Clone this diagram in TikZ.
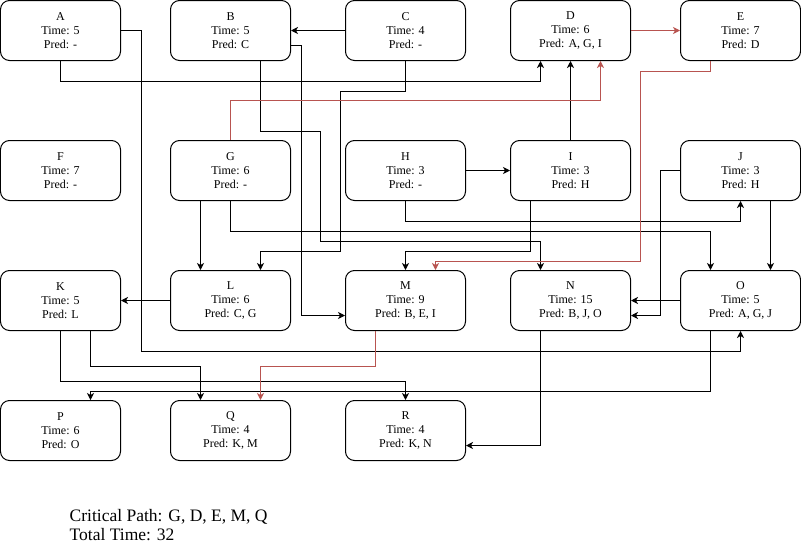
\documentclass[tikz,border=0pt]{standalone}
\usepackage{fontspec}
\setmainfont{Liberation Serif}
\usetikzlibrary{arrows.meta}
\definecolor{critred}{RGB}{184,84,80}
\tikzset{
  task/.style={draw=black, line width=1pt, rounded corners=9pt, rectangle,
    minimum width=120pt, minimum height=60pt, inner sep=0pt, align=center,
    font=\fontsize{12}{14}\selectfont},
  arr/.style={draw=black, line width=1pt, -{Stealth[length=7pt,width=7pt,inset=2pt]}},
  crit/.style={draw=critred, line width=1pt, -{Stealth[length=7pt,width=7pt,inset=2pt]}},
}
\begin{document}
\begin{tikzpicture}[x=1pt,y=-1pt]
\useasboundingbox (-0.5,-0.5) rectangle (800.5,543.5);
% row 1
\node[task] (A) at (60,30)  {A\\Time: 5\\Pred: -};
\node[task] (B) at (230,30) {B\\Time: 5\\Pred: C};
\node[task] (C) at (405,30) {C\\Time: 4\\Pred: -};
\node[task] (D) at (570,30) {D\\Time: 6\\Pred: A, G, I};
\node[task] (E) at (740,30) {E\\Time: 7\\Pred: D};
% row 2
\node[task] (F) at (60,170)  {F\\Time: 7\\Pred: -};
\node[task] (G) at (230,170) {G\\Time: 6\\Pred: -};
\node[task] (H) at (405,170) {H\\Time: 3\\Pred: -};
\node[task] (I) at (570,170) {I\\Time: 3\\Pred: H};
\node[task] (J) at (740,170) {J\\Time: 3\\Pred: H};
% row 3
\node[task] (K) at (60,300)  {K\\Time: 5\\Pred: L};
\node[task] (L) at (230,300) {L\\Time: 6\\Pred: C, G};
\node[task] (M) at (405,300) {M\\Time: 9\\Pred: B, E, I};
\node[task] (N) at (570,300) {N\\Time: 15\\Pred: B, J, O};
\node[task] (O) at (740,300) {O\\Time: 5\\Pred: A, G, J};
% row 4
\node[task] (P) at (60,430)  {P\\Time: 6\\Pred: O};
\node[task] (Q) at (230,430) {Q\\Time: 4\\Pred: K, M};
\node[task] (R) at (405,430) {R\\Time: 4\\Pred: K, N};
% summary
\node[anchor=base west, align=left, inner sep=0pt, font=\fontsize{17.5}{19}\selectfont] (summary) at (69,540)
  {Critical Path: G, D, E, M, Q\\Total Time: 32};
% black connectors
\draw[arr] (A.south) -- ++(0,20) -| ([xshift=-30pt]D.south);
\draw[arr] (A.east) -- ++(20,0) |- ([yshift=-20pt]O.south) -- (O.south);
\draw[arr] (C.west) -- (B.east);
\draw[arr] (C.south) -- ++(0,30) -- ++(-65,0) -- ++(0,160) -| ([xshift=30pt]L.north);
\draw[arr] ([yshift=-15pt]B.east) -- ++(10,0) |- ([yshift=-15pt]M.west);
\draw[arr] ([xshift=30pt]B.south) -- ++(0,70) -- ++(60,0) -- ++(0,110) -| ([xshift=-30pt]N.north);
\draw[arr] (I.north) -- (D.south);
\draw[arr] ([xshift=-30pt]G.south) -- ([xshift=-30pt]L.north);
\draw[arr] (G.south) -- ++(0,30) -| ([xshift=-30pt]O.north);
\draw[arr] (H.east) -- (I.west);
\draw[arr] (H.south) -- ++(0,20) -| (J.south);
\draw[arr] ([xshift=-40pt]I.south) -- ++(0,50) -| (M.north);
\draw[arr] (J.west) -- ++(-20,0) |- ([yshift=-15pt]N.east);
\draw[arr] ([xshift=30pt]J.south) -- ([xshift=30pt]O.north);
\draw[arr] (O.west) -- (N.east);
\draw[arr] (L.west) -- (K.east);
\draw[arr] ([xshift=30pt]K.south) -- ++(0,35) -| ([xshift=-30pt]Q.north);
\draw[arr] (K.south) -- ++(0,50) -| (R.north);
\draw[arr] ([xshift=-30pt]O.south) -- ++(0,60) -| ([xshift=30pt]P.north);
\draw[arr] ([xshift=-30pt]N.south) |- ([yshift=-15pt]R.east);
% critical path connectors
\draw[crit] (G.north) -- ++(0,-40) -| ([xshift=30pt]D.south);
\draw[crit] (D.east) -- (E.west);
\draw[crit] ([xshift=-30pt]E.south) -- ++(0,10) -- ++(-70,0) -- ++(0,190) -| ([xshift=30pt]M.north);
\draw[crit] ([xshift=-30pt]M.south) -- ++(0,35) -| ([xshift=30pt]Q.north);
\end{tikzpicture}
\end{document}
